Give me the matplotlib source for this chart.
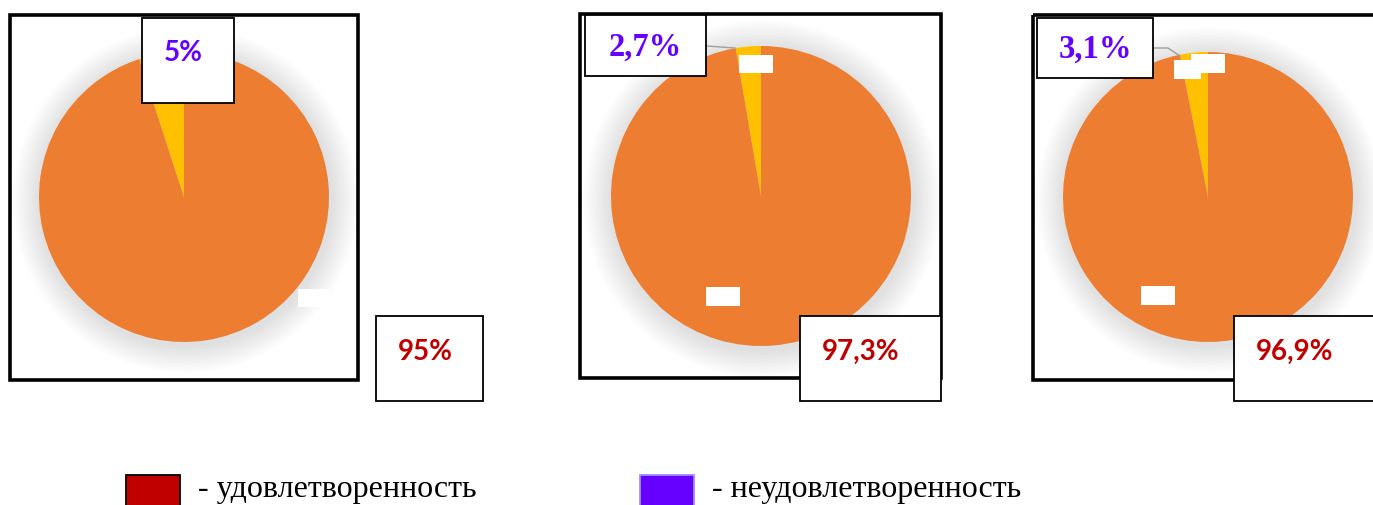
import matplotlib
matplotlib.use("Agg")
import matplotlib.pyplot as plt
from matplotlib.patches import Rectangle, Circle

# ---- data ------------------------------------------------------------
satisfied = [95.0, 97.3, 96.9]
unsatisfied = [5.0, 2.7, 3.1]
sat_labels = ["95%", "97,3%", "96,9%"]
unsat_labels = ["5%", "2,7%", "3,1%"]
legend_labels = ["- удовлетворенность", "- неудовлетворенность"]

ORANGE = "#ED7D31"
YELLOW = "#FFC000"
RED = "#C00000"
PURPLE = "#6600FF"

W, H = 1373, 505
fig = plt.figure(figsize=(W / 100, H / 100), dpi=100)

# pie geometry in pixels: centre x, centre y, radius
pies = [(184, 197, 145), (761, 196, 150), (1208, 197, 145)]
pad = 1.25

for (cx, cy, r), s, u in zip(pies, satisfied, unsatisfied):
    half = r * pad
    ax = fig.add_axes([(cx - half) / W, (H - cy - half) / H, 2 * half / W, 2 * half / H])
    # soft shadow glow around pie
    for k in range(16):
        ax.add_patch(Circle((0.01, -0.02), 1.0 + 0.012 * (16 - k), color="#b8b8b8",
                            alpha=0.022, lw=0, zorder=0))
    ax.pie([u, s], colors=[YELLOW, ORANGE], startangle=90, counterclock=True,
           radius=1.0, wedgeprops=dict(linewidth=0))
    ax.set_xlim(-pad, pad)
    ax.set_ylim(-pad, pad)
    ax.set_aspect("auto")
    ax.axis("off")

# ---- overlay for frames, label boxes and legend ----------------------
ov = fig.add_axes([0, 0, 1, 1])
ov.set_xlim(0, W)
ov.set_ylim(H, 0)
ov.axis("off")
ov.patch.set_alpha(0)


def rect(x0, y0, x1, y1, lw=1.1, fc="none", ec="black", z=2):
    ov.add_patch(Rectangle((x0, y0), x1 - x0, y1 - y0, facecolor=fc,
                           edgecolor=ec, linewidth=lw, zorder=z))


# outer frames
rect(10, 15, 358, 380, lw=2.6, z=1)
rect(580, 14, 941, 378, lw=2.6, z=1)
rect(1033, 15, 1400, 380, lw=2.6, z=1)

# small white blocks (hidden labels)
for x0, y0, x1, y1 in [(298, 289, 330, 307), (739, 55, 773, 73), (706, 287, 740, 306),
                       (1174, 60, 1201, 79), (1191, 54, 1225, 73), (1141, 286, 1175, 305)]:
    rect(x0, y0, x1, y1, lw=0, fc="white", ec="white", z=2)

# leader lines
ov.plot([706, 735], [46, 48], color="#a0a0a0", lw=1.0, zorder=2)
ov.plot([1153, 1168, 1180], [48, 48, 56], color="#a0a0a0", lw=1.0, zorder=2)

# label boxes for unsatisfied share
unsat_boxes = [(142, 18, 234, 103), (585, 15, 706, 76), (1037, 18, 1153, 78)]
unsat_text_pos = [(183, 53), (645, 47), (1095, 49)]
for i, ((x0, y0, x1, y1), (tx, ty)) in enumerate(zip(unsat_boxes, unsat_text_pos)):
    rect(x0, y0, x1, y1, lw=1.3, fc="white", z=3)
    if i == 0:
        ov.text(tx, ty, unsat_labels[i], color=PURPLE, fontsize=20, fontweight="bold",
                family="Lato", ha="center", va="center", zorder=4)
    else:
        ov.text(tx, ty, unsat_labels[i], color=PURPLE, fontsize=23.5, fontweight="bold",
                family="Liberation Serif", ha="center", va="center", zorder=4)

# label boxes for satisfied share
sat_boxes = [(376, 316, 483, 401), (800, 316, 941, 401), (1234, 316, 1400, 401)]
sat_text_pos = [(425, 352), (861, 352), (1295, 352)]
for i, ((x0, y0, x1, y1), (tx, ty)) in enumerate(zip(sat_boxes, sat_text_pos)):
    rect(x0, y0, x1, y1, lw=1.3, fc="white", z=3)
    ov.text(tx, ty, sat_labels[i], color=RED, fontsize=20, fontweight="bold",
            family="Lato", ha="center", va="center", zorder=4)

# legend
rect(126, 475, 180, 510, lw=1.3, fc=RED, ec="black", z=3)
rect(640, 475, 694, 510, lw=1.3, fc=PURPLE, ec="#9d8cff", z=3)
ov.text(198, 490, legend_labels[0], fontsize=23, family="Liberation Serif",
        ha="left", va="center", zorder=4)
ov.text(712, 490, legend_labels[1], fontsize=23, family="Liberation Serif",
        ha="left", va="center", zorder=4)

fig.savefig("out.png", dpi=100)
